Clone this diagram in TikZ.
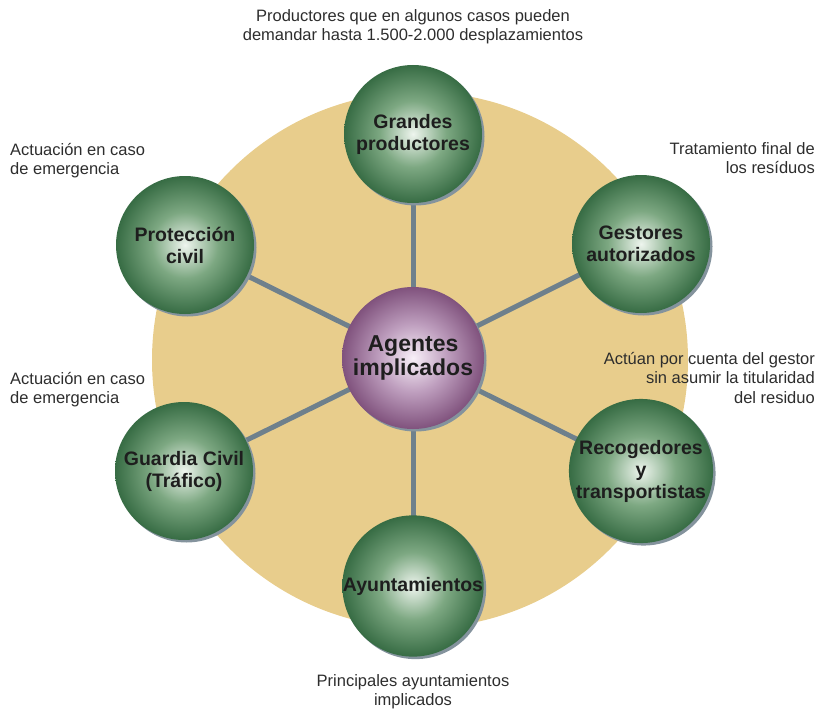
\documentclass[tikz,border=0pt]{standalone}
\usepackage{fontspec}
\setmainfont{Liberation Sans}
\usetikzlibrary{positioning,shadows,backgrounds}
\definecolor{disc}{RGB}{232,205,140}
\definecolor{spoke}{RGB}{110,128,140}
\definecolor{leafdark}{RGB}{55,108,68}
\definecolor{leafmid}{RGB}{125,168,130}
\definecolor{leaflight}{RGB}{238,245,238}
\definecolor{plumdark}{RGB}{128,82,125}
\definecolor{plummid}{RGB}{190,158,190}
\definecolor{plumlight}{RGB}{248,240,248}
\definecolor{ink}{RGB}{30,30,30}
\definecolor{notegray}{RGB}{45,45,45}
\pgfdeclareradialshading{leafball}{\pgfpoint{0bp}{0bp}}{color(0bp)=(leaflight); color(12bp)=(leafmid); color(25bp)=(leafdark); color(50bp)=(leafdark)}
\pgfdeclareradialshading{plumball}{\pgfpoint{0bp}{0bp}}{color(0bp)=(plumlight); color(12bp)=(plummid); color(25bp)=(plumdark); color(50bp)=(plumdark)}

\begin{document}
\begin{tikzpicture}[x=1pt,y=-1pt,
    agent/.style={circle,shading=leafball,minimum size=138pt,inner sep=0pt,align=center,text=ink,
      font=\bfseries\fontsize{19.5}{22}\selectfont,
      drop shadow={shadow xshift=2.5pt,shadow yshift=-2.5pt,fill=spoke!85,opacity=1}},
    hub/.style={agent,shading=plumball,minimum size=142pt,font=\bfseries\fontsize{23}{24}\selectfont},
    note/.style={inner sep=0pt,text=notegray,font=\fontsize{16.5}{19.5}\selectfont}]
  \useasboundingbox (0,0) rectangle (817,709);
  \node[hub] (cen) at (413,358) {Agentes\\implicados};
  \node[agent] (gp) at (413,134) {Grandes\\productores};
  \node[agent] (ga) at (641,244) {Gestores\\autorizados};
  \node[agent] (rt) at (641,471) {Recogedores\\y\\transportistas};
  \node[agent] (ay) at (413,586) {Ayuntamientos};
  \node[agent] (gc) at (184,471) {Guardia Civil\\(Tráfico)};
  \node[agent] (pc) at (185,245) {Protección\\civil};
  \begin{scope}[on background layer]
    \fill[disc] (420,360) circle (268);
    \foreach \n in {gp,ga,rt,ay,gc,pc}
      \draw[spoke,line width=5pt] (cen.center) -- (\n.center);
  \end{scope}
  \node[note,anchor=north,align=center] (ngp) at (413,9) {Productores que en algunos casos pueden\\demandar hasta 1.500-2.000 desplazamientos};
  \node[note,anchor=north east,align=right] (nga) at (815,142) {Tratamiento final de\\los resíduos};
  \node[note,anchor=north east,align=right] (nrt) at (815,352) {Actúan por cuenta del gestor\\sin asumir la titularidad\\del residuo};
  \node[note,anchor=north,align=center] (nay) at (413,674) {Principales ayuntamientos\\implicados};
  \node[note,anchor=north west,align=left] (ngc) at (10,372) {Actuación en caso\\de emergencia};
  \node[note,anchor=north west,align=left] (npc) at (10,143) {Actuación en caso\\de emergencia};
\end{tikzpicture}
\end{document}
